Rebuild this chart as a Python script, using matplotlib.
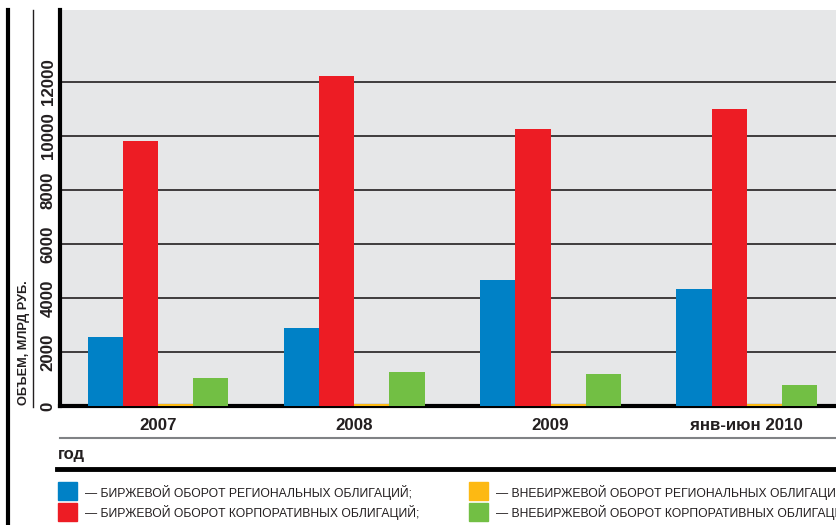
import matplotlib.pyplot as plt
import numpy as np
from matplotlib.lines import Line2D
from matplotlib.patches import Rectangle

# Data
years = ["2007", "2008", "2009", "янв-июн 2010"]
exch_regional = [2550, 2880, 4650, 4320]
exch_corporate = [9820, 12210, 10260, 11000]
otc_regional = [80, 90, 80, 90]
otc_corporate = [1030, 1250, 1180, 780]
series_labels = [
    "— БИРЖЕВОЙ ОБОРОТ РЕГИОНАЛЬНЫХ ОБЛИГАЦИЙ;",
    "— БИРЖЕВОЙ ОБОРОТ КОРПОРАТИВНЫХ ОБЛИГАЦИЙ;",
    "— ВНЕБИРЖЕВОЙ ОБОРОТ РЕГИОНАЛЬНЫХ ОБЛИГАЦИЙ;",
    "— ВНЕБИРЖЕВОЙ ОБОРОТ КОРПОРАТИВНЫХ ОБЛИГАЦИЙ;",
]
colors = ["#0081c6", "#ed1c24", "#fdb913", "#72bf44"]
yticks = [0, 2000, 4000, 6000, 8000, 10000, 12000]

plt.rcParams['font.family'] = ['Liberation Sans', 'DejaVu Sans']

W, H = 837, 525
fig = plt.figure(figsize=(W / 100, H / 100), dpi=100)

def fx(px):
    return px / W

def fy(py):
    return 1 - py / H

ax = fig.add_axes([fx(60), fy(406), 1 - fx(60), fy(10) - fy(406)])
ax.set_facecolor("#e6e7e8")

x = np.arange(len(years))
w = 0.179
data = [exch_regional, exch_corporate, otc_regional, otc_corporate]
for i, (vals, c) in enumerate(zip(data, colors)):
    ax.bar(x + (i - 1.5) * w, vals, width=w, color=c, zorder=3)

ax.set_xlim(-0.5, 3.46)
ax.set_ylim(0, 14650)
ax.set_yticks(yticks)
ax.set_yticklabels([str(v) for v in yticks], rotation=90, va="center",
                   fontsize=12.2, fontweight="bold", color="#231f20")
ax.set_xticks(x)
ax.set_xticklabels(years, fontsize=12.2, fontweight="bold", color="#231f20")
ax.tick_params(axis="both", length=0)
ax.tick_params(axis="x", pad=9)
ax.tick_params(axis="y", pad=3)
ax.grid(axis="y", color="#231f20", linewidth=1.2, zorder=1)
for s in ["top", "right"]:
    ax.spines[s].set_visible(False)
ax.spines["left"].set_linewidth(3)
ax.spines["bottom"].set_linewidth(3)
ax.spines["left"].set_color("#000000")
ax.spines["bottom"].set_color("#000000")

# frame lines
fig.add_artist(Line2D([fx(8), fx(8)], [fy(10), 0], color="black", lw=3))
fig.add_artist(Line2D([fx(33), fx(33)], [fy(10), fy(407)], color="#231f20", lw=1))
fig.add_artist(Line2D([fx(60), 1], [fy(438), fy(438)], color="#808285", lw=1.5))
fig.add_artist(Line2D([fx(57), 1], [fy(469), fy(469)], color="black", lw=3.5))

fig.text(fx(24.5), fy(405), "ОБЪЕМ, МЛРД РУБ.", rotation=90, ha="center", va="bottom",
         fontsize=9.2, fontweight="bold", color="#231f20",
         family=["Liberation Sans Narrow", "Liberation Sans"])
fig.text(fx(58), fy(454), "год", ha="left", va="center", fontsize=12,
         fontweight="bold", color="#231f20")

# legend
pos = [(58, 491), (58, 512), (469, 491), (469, 512)]
for (px, py), c, lab in zip(pos, colors, series_labels):
    fig.add_artist(Rectangle((fx(px), fy(py + 9)), fx(19), fy(py - 9) - fy(py + 9),
                             transform=fig.transFigure, color=c))
    fig.text(fx(px + 27), fy(py + 1), lab, ha="left", va="center", fontsize=8.7,
             color="#231f20", family=["Liberation Sans Narrow", "Liberation Sans"])

fig.savefig("out.png", dpi=100)
